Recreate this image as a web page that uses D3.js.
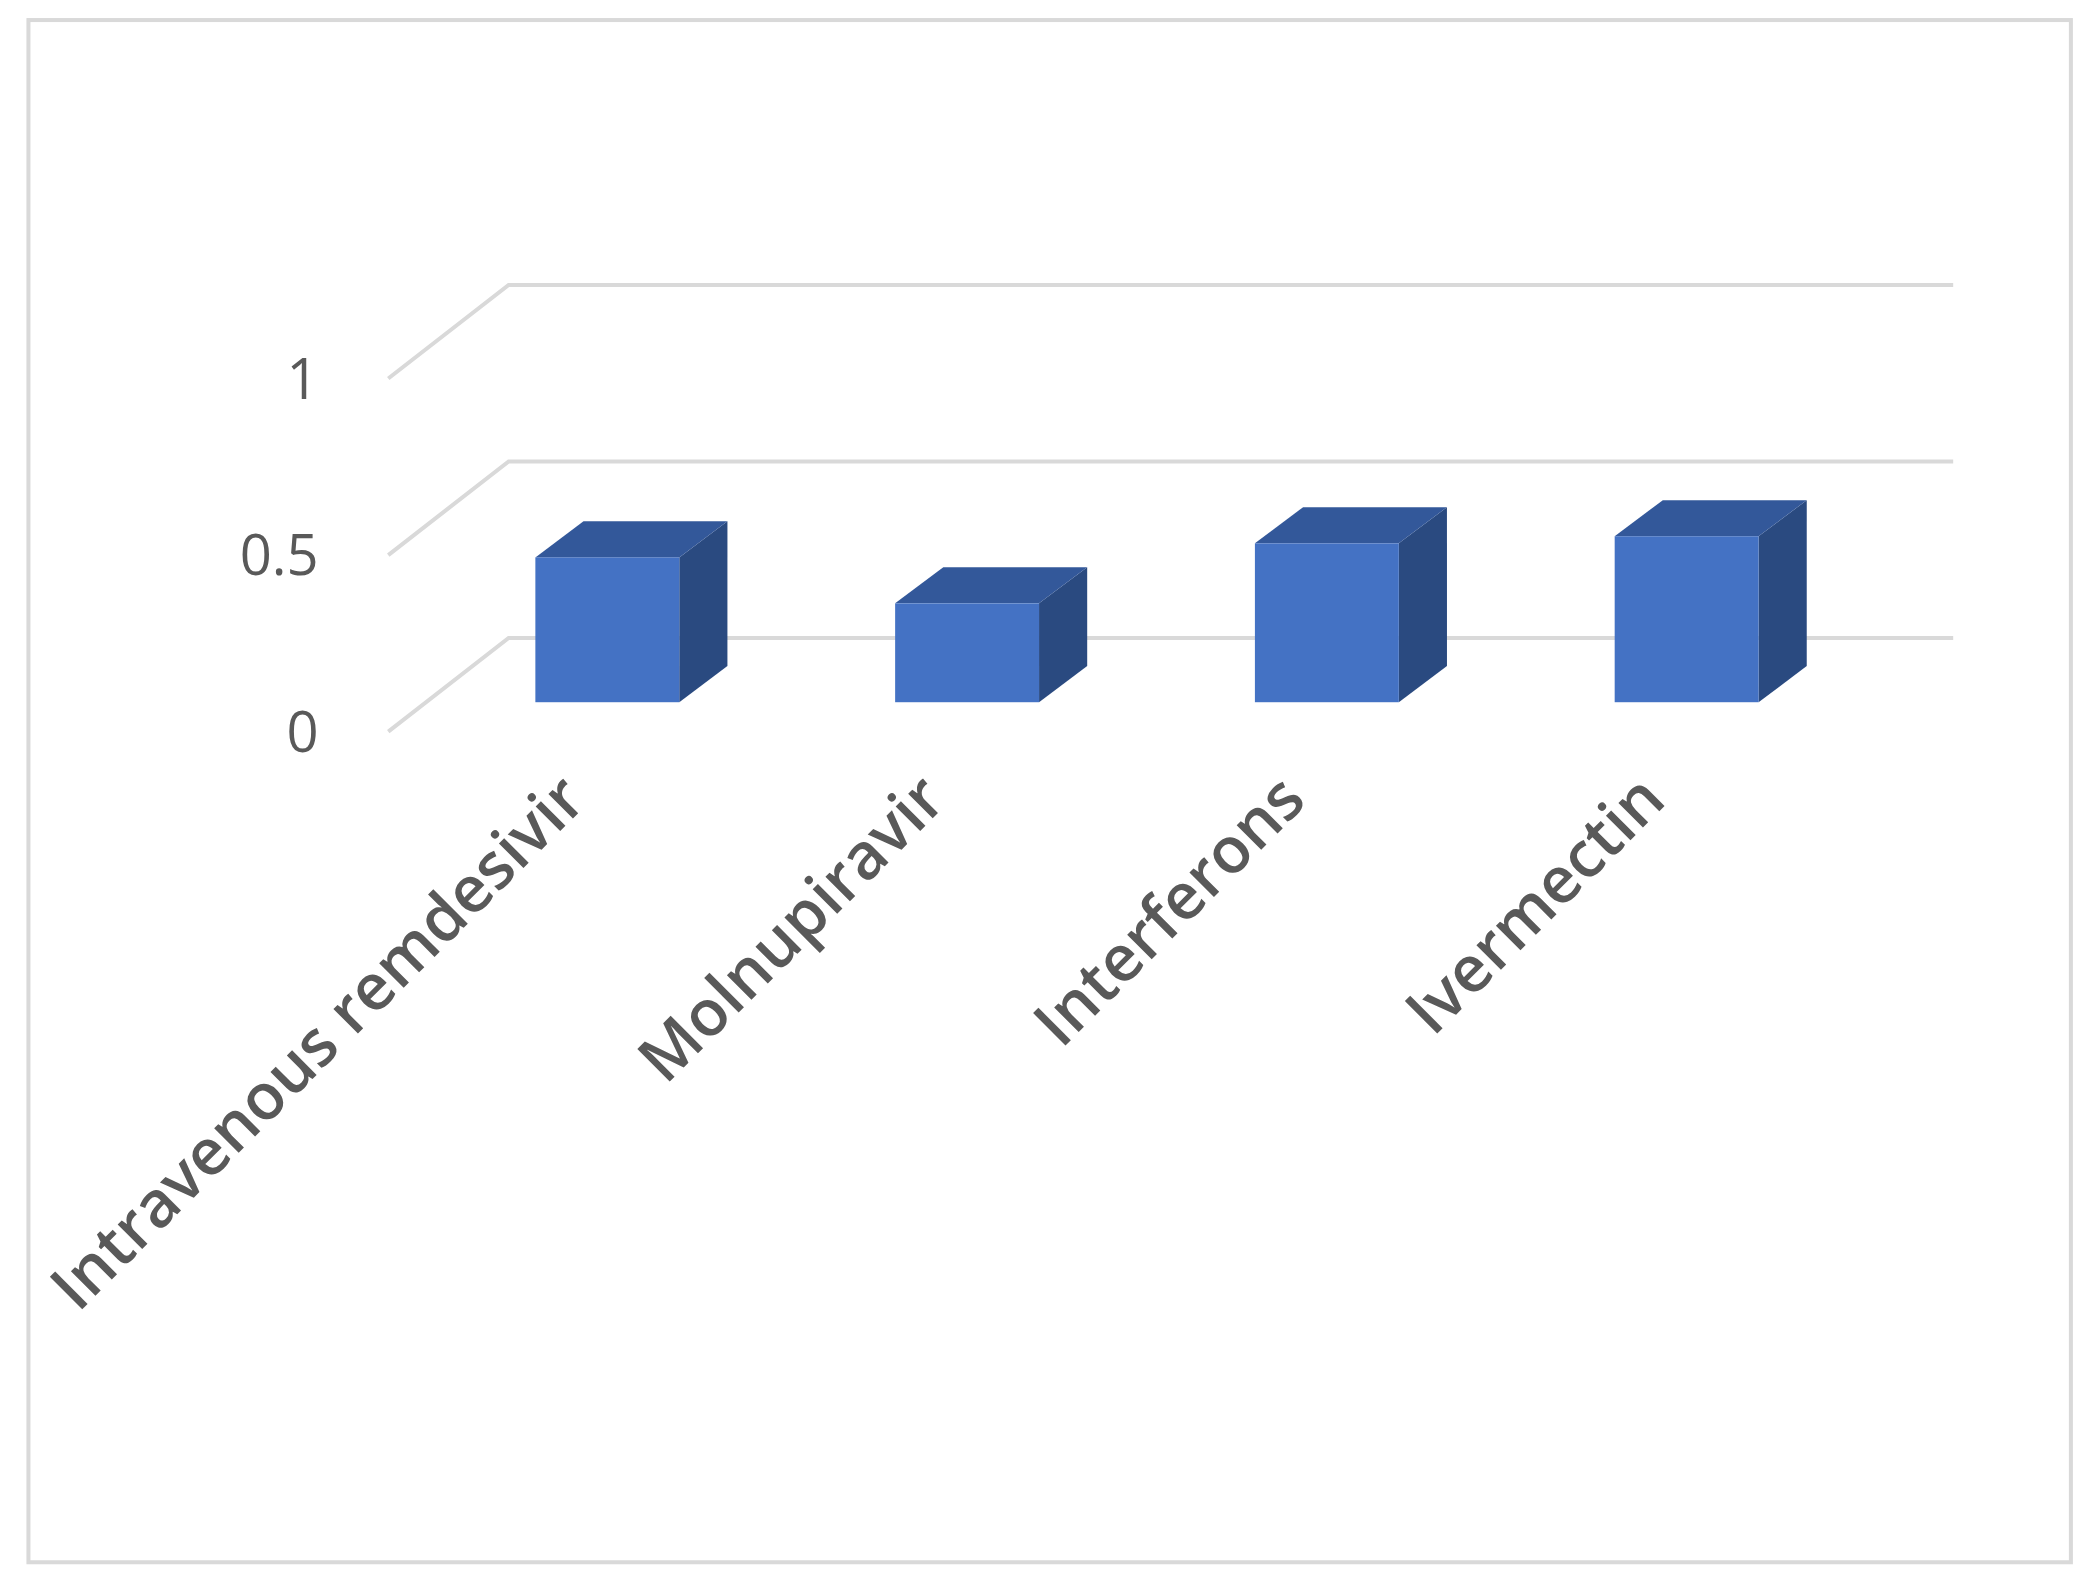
<!DOCTYPE html>
<html><head><meta charset="utf-8">
<script src="https://cdn.jsdelivr.net/npm/d3@7"></script>
<style>body{margin:0;background:#fff}</style></head>
<body><svg id="c" width="2098" height="1585" viewBox="0 0 1568 1185"></svg>
<script>
const categories = ["Intravenous remdesivir","Molnupiravir","Interferons","Ivermectin"];
const values = [0.41, 0.28, 0.45, 0.47];
const ticks = [0, 0.5, 1];
const tickLabels = ["0","0.5","1"];

const svg = d3.select("#c");
svg.append("rect").attr("x",21).attr("y",15).attr("width",1527).attr("height",1153)
  .attr("fill","#fff").attr("stroke","#d9d9d9").attr("stroke-width",3);

const yWall = d3.scaleLinear().domain([0,1]).range([477,213]);
const yFront = d3.scaleLinear().domain([0,1]).range([547,283]);
const yBar = d3.scaleLinear().domain([0,1]).range([525,261]);
const x = d3.scaleBand().domain(categories).range([265.5,1449]).paddingInner(0.6).paddingOuter(0.5);
const dx = 36, dy = -27;

ticks.forEach((t,i)=>{
  svg.append("polyline").attr("points",`290,${yFront(t)} 380,${yWall(t)} 1460,${yWall(t)}`)
    .attr("fill","none").attr("stroke","#d9d9d9").attr("stroke-width",3);
  svg.append("text").attr("x",238).attr("y",yFront(t)+15).attr("text-anchor","end")
    .attr("font-family","Open Sans, sans-serif").attr("font-size",42).attr("fill","#595959").text(tickLabels[i]);
});

categories.forEach((c,i)=>{
  const x0 = x(c), w = x.bandwidth(), y0 = yBar(0), y1 = yBar(values[i]);
  svg.append("polygon").attr("points",`${x0+w},${y1} ${x0+w+dx},${y1+dy} ${x0+w+dx},${y0+dy} ${x0+w},${y0}`).attr("fill","#2a4a80");
  svg.append("polygon").attr("points",`${x0},${y1} ${x0+dx},${y1+dy} ${x0+w+dx},${y1+dy} ${x0+w},${y1}`).attr("fill","#33589a");
  svg.append("rect").attr("x",x0).attr("y",y1).attr("width",w).attr("height",y0-y1).attr("fill","#4472c4");
  const lx = x0 + 40, ly = 600;
  svg.append("text").attr("transform",`translate(${lx},${ly}) rotate(-45)`).attr("text-anchor","end")
    .attr("font-family","Open Sans, sans-serif").attr("font-size",48).attr("font-weight",600).attr("fill","#595959").text(c);
});
</script></body></html>
